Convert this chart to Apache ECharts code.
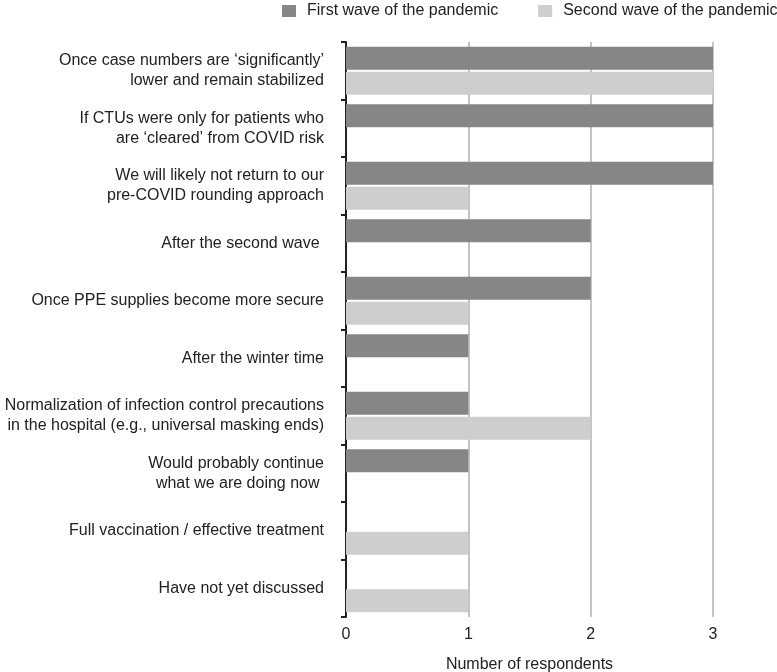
<!DOCTYPE html>
<html>
<head>
<meta charset="utf-8">
<script src="https://cdn.jsdelivr.net/npm/echarts@6/dist/echarts.min.js"></script>
<style>html,body{margin:0;padding:0;background:#fff}#c{width:777px;height:672px}</style>
</head>
<body>
<div id="c"></div>
<script>
const categories = [
  "Once case numbers are \u2018significantly\u2019\nlower and remain stabilized",
  "If CTUs were only for patients who\nare \u2018cleared\u2019 from COVID risk",
  "We will likely not return to our\npre-COVID rounding approach",
  "After the second wave ",
  "Once PPE supplies become more secure",
  "After the winter time",
  "Normalization of infection control precautions\nin the hospital (e.g., universal masking ends)",
  "Would probably continue\nwhat we are doing now ",
  "Full vaccination / effective treatment",
  "Have not yet discussed"
];
const firstWave = [3, 3, 3, 2, 2, 1, 1, 1, 0, 0];
const secondWave = [3, 0, 1, 0, 1, 0, 2, 0, 1, 1];
const xTicks = [0, 1, 2, 3];

const FONT = "Liberation Sans";
const chart = echarts.init(document.getElementById('c'));
chart.setOption({
  animation: false,
  textStyle: { fontFamily: FONT },
  legend: {
    left: 277, top: -2, width: 520,
    itemWidth: 14, itemHeight: 12, itemGap: 40,
    icon: 'rect',
    textStyle: { fontSize: 16, color: '#222', fontFamily: FONT, padding: [0, 0, 0, 6] },
    data: ['First wave of the pandemic', 'Second wave of the pandemic']
  },
  grid: { left: 346, right: 64, top: 42, bottom: 55, containLabel: false, outerBoundsMode: 'none' },
  xAxis: {
    type: 'value', min: xTicks[0], max: xTicks[xTicks.length - 1], interval: 1,
    name: 'Number of respondents', nameLocation: 'middle', nameGap: 40,
    nameTextStyle: { fontSize: 16, color: '#222', fontFamily: FONT },
    axisLine: { show: false }, axisTick: { show: false },
    axisLabel: { fontSize: 16, color: '#222', margin: 10, fontFamily: FONT },
    splitLine: { show: true, lineStyle: { color: '#c4c4c4', width: 2 } }
  },
  yAxis: {
    type: 'category', inverse: true, data: categories,
    axisLine: { show: true, lineStyle: { color: '#222', width: 2 } },
    axisTick: { show: true, length: 5, lineStyle: { color: '#222', width: 2 } },
    axisLabel: { fontSize: 16, color: '#222', margin: 22, lineHeight: 20, align: 'right', fontFamily: FONT }
  },
  series: [
    { name: 'First wave of the pandemic', type: 'bar', data: firstWave, barWidth: 23, barGap: '9%',
      itemStyle: { color: '#868686' } },
    { name: 'Second wave of the pandemic', type: 'bar', data: secondWave, barWidth: 23,
      itemStyle: { color: '#cecece' } }
  ]
});
</script>
</body>
</html>
